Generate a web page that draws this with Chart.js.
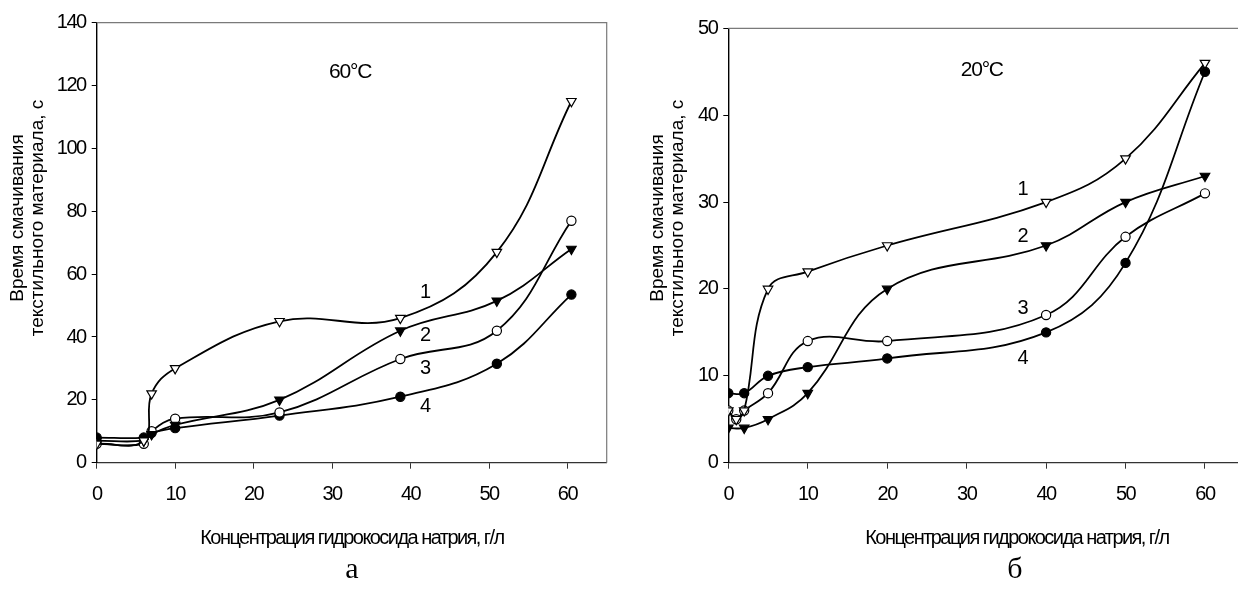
<!DOCTYPE html>
<html>
<head>
<meta charset="utf-8">
<script src="https://cdn.jsdelivr.net/npm/chart.js@4.4.1/dist/chart.umd.min.js"></script>
<style>
  html, body { margin: 0; padding: 0; background: #fff; overflow: hidden; width: 1238px; height: 592px; }
  .panel { position: absolute; top: 0; width: 640px; height: 592px; }
  #panelA { left: 0; }
  #panelB { left: 640px; }
</style>
</head>
<body>
<div class="panel" id="panelA"><canvas id="chartA" width="640" height="592"></canvas></div>
<div class="panel" id="panelB"><canvas id="chartB" width="640" height="592"></canvas></div>
<script>
// ---- 60 °C: NaOH concentration (g/l) and wetting time (s) for curves 1–4
const concA  = [0, 6, 7, 10, 23.3, 38.7, 51, 60.5];
const timeA1 = [6, 7, 22, 30, 45, 46, 67, 115];
const timeA2 = [7, 7, 9, 12, 20, 42, 51.5, 68];
const timeA3 = [6, 6, 10, 14, 16, 33, 42, 77];
const timeA4 = [8, 8, 9.5, 11, 15, 21, 31.5, 53.5];

// ---- 20 °C
const concB13 = [0, 1, 2, 5, 10, 20, 40, 50, 60];
const concB24 = [0, 2, 5, 10, 20, 40, 50, 60];
const timeB1  = [6, 5, 6, 20, 22, 25, 30, 35, 46];
const timeB2  = [4, 4, 5, 8, 20, 25, 30, 33];
const timeB3  = [6, 5, 6, 8, 14, 14, 17, 26, 31];
const timeB4  = [8, 8, 10, 11, 12, 15, 23, 45];

// ---- axis ticks
const xTicks  = [0, 10, 20, 30, 40, 50, 60];
const yTicksA = [0, 20, 40, 60, 80, 100, 120, 140];
const yTicksB = [0, 10, 20, 30, 40, 50];

// ---- texts
const curveNames = ['1', '2', '3', '4'];
const xTitle = 'Концентрация гидрокосида натрия, г/л';
const yTitle = ['Время смачивания', 'текстильного материала, с'];

const SANS = "'Liberation Sans', Arial, sans-serif";
const SERIF = "'Liberation Serif', 'Times New Roman', serif";

const toPoints = (xs, ys) => xs.map((x, i) => ({ x, y: ys[i] }));

// marker look for curves 1..4: open ▽, filled ▼, open ○, filled ●
const markerStyles = [
  { pointStyle: 'triangle', rotation: 180, pointRadius: 5.5, pointBackgroundColor: '#fff' },
  { pointStyle: 'triangle', rotation: 180, pointRadius: 5.5, pointBackgroundColor: '#000' },
  { pointStyle: 'circle', rotation: 0, pointRadius: 4.6, pointBackgroundColor: '#fff' },
  { pointStyle: 'circle', rotation: 0, pointRadius: 4.6, pointBackgroundColor: '#000' }
];

function makeDataset(points, k) {
  const m = markerStyles[k];
  return {
    label: curveNames[k],
    data: points,
    borderColor: '#000',
    borderWidth: 1.8,
    tension: 0.4,
    fill: false,
    pointStyle: m.pointStyle,
    pointRotation: m.rotation,
    pointRadius: m.pointRadius,
    pointHoverRadius: m.pointRadius,
    pointBackgroundColor: m.pointBackgroundColor,
    pointBorderColor: '#000',
    pointBorderWidth: 1.2
  };
}

// Box lines, temperature note, curve numbers, axis titles and panel letter
const panelDecor = {
  id: 'panelDecor',
  beforeDraw(chart) {
    chart.ctx.letterSpacing = '-1.5px';
  },
  afterDraw(chart, args, opts) {
    const { ctx, chartArea: a, scales } = chart;
    ctx.save();
    // top and right frame
    ctx.strokeStyle = '#7a7a7a';
    ctx.lineWidth = 1.2;
    ctx.beginPath();
    ctx.moveTo(a.left, a.top);
    ctx.lineTo(a.right, a.top);
    ctx.lineTo(a.right, a.bottom);
    ctx.stroke();

    ctx.fillStyle = '#000';
    ctx.textBaseline = 'middle';
    ctx.textAlign = 'center';

    // temperature
    ctx.letterSpacing = '-1.2px';
    ctx.font = '21px ' + SANS;
    ctx.fillText(opts.temp.text, scales.x.getPixelForValue(opts.temp.x), scales.y.getPixelForValue(opts.temp.y));

    // curve numbers
    ctx.letterSpacing = '0px';
    ctx.font = '20px ' + SANS;
    opts.marks.forEach((m, i) => {
      ctx.fillText(curveNames[i], scales.x.getPixelForValue(m.x), scales.y.getPixelForValue(m.y));
    });

    // x title
    ctx.letterSpacing = '-1.55px';
    ctx.font = '20px ' + SANS;
    ctx.fillText(xTitle, opts.xTitlePos.x, opts.xTitlePos.y);

    // y title, two rotated lines
    ctx.letterSpacing = '0px';
    ctx.font = '19px ' + SANS;
    ctx.save();
    ctx.translate(opts.yTitlePos.x, opts.yTitlePos.y);
    ctx.rotate(-Math.PI / 2);
    ctx.fillText(yTitle[0], 0, 0);
    ctx.fillText(yTitle[1], 0, opts.yTitlePos.gap);
    ctx.restore();

    // panel letter
    ctx.font = '30px ' + SERIF;
    ctx.fillText(opts.letter.text, opts.letter.x, opts.letter.y);
    ctx.restore();
  }
};

function makeChart(canvasId, datasets, yMax, yTicks, geom, decor) {
  return new Chart(document.getElementById(canvasId), {
    type: 'line',
    data: { datasets },
    plugins: [panelDecor],
    options: {
      responsive: false,
      animation: false,
      devicePixelRatio: 1,
      layout: { padding: { left: 0, top: geom.top, right: geom.right, bottom: 0 } },
      plugins: {
        legend: { display: false },
        tooltip: { enabled: false },
        panelDecor: decor
      },
      scales: {
        x: {
          type: 'linear',
          min: 0,
          max: 65,
          afterBuildTicks: s => { s.ticks = xTicks.map(v => ({ value: v })); },
          afterFit: s => { s.height = 592 - geom.top - geom.plotH; },
          grid: { drawOnChartArea: false, drawTicks: true, tickLength: 6, color: '#333', lineWidth: 1 },
          border: { display: true, color: '#333', width: 1.2 },
          ticks: { color: '#000', padding: 14, maxRotation: 0, font: { family: SANS, size: 20 } },
          title: { display: false }
        },
        y: {
          min: 0,
          max: yMax,
          afterBuildTicks: s => { s.ticks = yTicks.map(v => ({ value: v })); },
          afterFit: s => { s.width = geom.left; },
          grid: { drawOnChartArea: false, drawTicks: true, tickLength: 5, color: '#000', lineWidth: 1 },
          border: { display: true, color: '#000', width: 1.4 },
          ticks: { color: '#000', padding: 6, font: { family: SANS, size: 20 } },
          title: { display: false }
        }
      }
    }
  });
}

makeChart('chartA',
  [
    makeDataset(toPoints(concA, timeA1), 0),
    makeDataset(toPoints(concA, timeA2), 1),
    makeDataset(toPoints(concA, timeA3), 2),
    makeDataset(toPoints(concA, timeA4), 3)
  ],
  140, yTicksA,
  { left: 96.7, top: 22.7, right: 33.3, plotH: 440 },
  {
    temp: { text: '60°C', x: 32.3, y: 124.3 },
    marks: [{ x: 41.9, y: 54.3 }, { x: 41.9, y: 40.6 }, { x: 41.9, y: 30.1 }, { x: 41.9, y: 18.0 }],
    xTitlePos: { x: 352, y: 538 },
    yTitlePos: { x: 18, y: 218, gap: 20 },
    letter: { text: 'а', x: 352, y: 570 }
  }
);

makeChart('chartB',
  [
    makeDataset(toPoints(concB13, timeB1), 0),
    makeDataset(toPoints(concB24, timeB2), 1),
    makeDataset(toPoints(concB13, timeB3), 2),
    makeDataset(toPoints(concB24, timeB4), 3)
  ],
  50, yTicksB,
  { left: 88.3, top: 28.3, right: 35.3, plotH: 434.4 },
  {
    temp: { text: '20°C', x: 31.9, y: 45.2 },
    marks: [{ x: 37.1, y: 31.4 }, { x: 37.1, y: 26.0 }, { x: 37.1, y: 17.8 }, { x: 37.1, y: 12.05 }],
    xTitlePos: { x: 377, y: 538 },
    yTitlePos: { x: 18, y: 218, gap: 20 },
    letter: { text: 'б', x: 375, y: 570 }
  }
);
</script>
</body>
</html>
